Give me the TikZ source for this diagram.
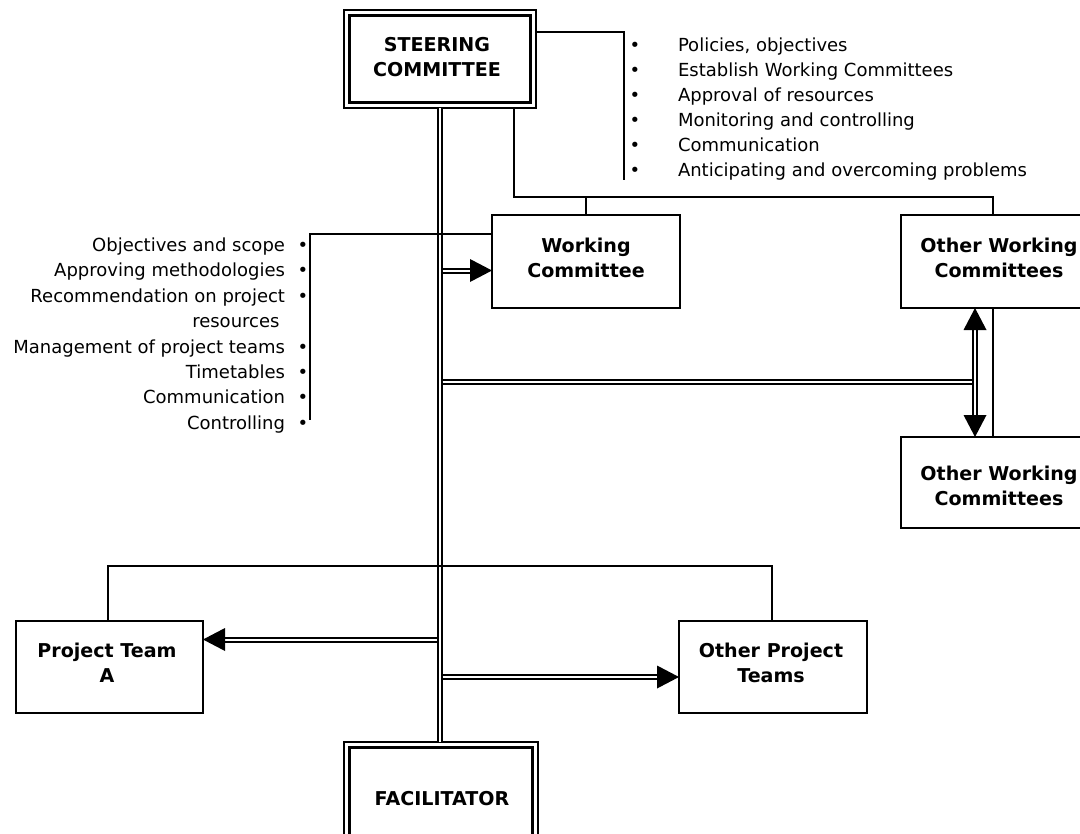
\documentclass[tikz,border=0pt]{standalone}
\usepackage{fontspec}
\setmainfont{DejaVu Sans}
\usetikzlibrary{arrows.meta,calc}
\tikzset{
  every node/.style={inner sep=0pt, outer sep=0pt},
  lbl/.style={font=\fontsize{13.5pt}{18.75pt}\selectfont, text height=9.8pt, text depth=0pt},
  boldtxt/.style={font=\fontsize{14.3pt}{18.75pt}\selectfont\bfseries, align=center},
  box/.style={draw, line width=1.35pt, fill=white},
  conn/.style={line width=1.1pt},
  dbl/.style={double, draw=black, double distance=1.5pt, line width=1.5pt},
}
\begin{document}
\begin{tikzpicture}[x=0.75pt,y=-0.75pt]
\clip (0,0) rectangle (1080,834);
\fill[white] (0,0) rectangle (1080,834);

% boxes
\node[box, line width=1.2pt, minimum width=144pt, minimum height=73.5pt] (sc) at (440,59) {};
\draw[line width=2.4pt] ($(sc.north west)+(5.5,5.5)$) rectangle ($(sc.south east)+(-5.5,-5.5)$);
\node[box, minimum width=141pt, minimum height=69.75pt] (wc) at (586,261.5) {};
\node[box, minimum width=147pt, minimum height=69.75pt] (owc1) at (999,261.5) {};
\node[box, minimum width=147pt, minimum height=68.25pt] (owc2) at (999,482.5) {};
\node[box, minimum width=140.25pt, minimum height=69pt] (pta) at (109.5,667) {};
\node[box, minimum width=141pt, minimum height=69pt] (opt) at (773,667) {};
\node[box, line width=1.2pt, minimum width=145.5pt, minimum height=87pt] (fac) at (441,800) {};
\draw[line width=2.4pt] ($(fac.north west)+(5.5,5.5)$) rectangle ($(fac.south east)+(-5.5,-5.5)$);

% box texts
\node[boldtxt] (sct) at (437,57.5) {STEERING\\COMMITTEE};
\node[boldtxt] (wct) at (586,257.5) {Working\\Committee};
\node[boldtxt] (owc1t) at (999,257.5) {Other Working\\Committees};
\node[boldtxt] (owc2t) at (999,486) {Other Working\\Committees};
\node[boldtxt] (ptat) at (107,662.5) {Project Team\\A};
\node[boldtxt] (optt) at (771,662.5) {Other Project\\Teams};
\node[boldtxt] (fact) at (442,799) {FACILITATOR};

% main double spine
\coordinate (spine) at (439.5,0);
\draw[dbl] (sc.south -| spine) -- (fac.north -| spine);

% arrow to working committee
\coordinate (rowwc) at (0,270.5);
\draw[dbl, shorten >=15pt] ($(spine |- rowwc)+(3,0)$) -- (wc.west |- rowwc);
\fill (wc.west |- rowwc) -- ++(-22,-11.5) -- ++(0,23) -- cycle;

% link to the other working committees
\coordinate (va) at (975,381.5);
\draw[dbl] ($(spine |- va)+(3,0)$) -- (va);
\draw[dbl, shorten <=15pt, shorten >=15pt] (owc1.south -| va) -- (owc2.north -| va);
\fill (owc1.south -| va) -- ++(-11.5,22) -- ++(23,0) -- cycle;
\fill (owc2.north -| va) -- ++(-11.5,-22) -- ++(23,0) -- cycle;

% arrows to project teams
\coordinate (rowa) at (0,639.5);
\draw[dbl, shorten >=15pt] ($(spine |- rowa)+(-3,0)$) -- (pta.east |- rowa);
\fill (pta.east |- rowa) -- ++(22,-11.5) -- ++(0,23) -- cycle;
\coordinate (rowo) at (0,677);
\draw[dbl, shorten >=15pt] ($(spine |- rowo)+(3,0)$) -- (opt.west |- rowo);
\fill (opt.west |- rowo) -- ++(-22,-11.5) -- ++(0,23) -- cycle;

% thin organisation lines
\coordinate (tj) at (514,197);
\coordinate (tr) at (993,197);
\draw[conn] (sc.south -| tj) -- (tj) -- (tr) -- (owc1.north -| tr);
\draw[conn] (wc.north |- tj) -- (wc.north);
\draw[conn] (owc1.south -| tr) -- (owc2.north -| tr);

\coordinate (bl) at (108,566);
\coordinate (br) at (772,566);
\draw[conn] (pta.north -| bl) -- (bl) -- (br) -- (opt.north -| br);

% bracket lines of the task lists
\coordinate (rbtop) at (624,32);
\coordinate (rbend) at (624,180);
\draw[conn] (sc.east |- rbtop) -- (rbtop) -- (rbend);
\coordinate (lbtop) at (310,234);
\coordinate (lbend) at (310,420);
\draw[conn] (wc.west |- lbtop) -- (lbtop) -- (lbend);

% steering committee tasks
\foreach \t [count=\i] in {{Policies, objectives},{Establish Working Committees},{Approval of resources},{Monitoring and controlling},{Communication},{Anticipating and overcoming problems}} {
  \node[lbl, anchor=west] (r\i) at (678,{20+25*\i}) {\t};
  \node[lbl] (rb\i) at (635,{20+25*\i}) {•};
}

% working committee tasks
\node[lbl, anchor=east] (l1) at (285,245) {Objectives and scope};
\node[lbl, anchor=east] (l2) at (285,270.4) {Approving methodologies};
\node[lbl, anchor=east] (l3) at (285,295.8) {Recommendation on project};
\node[lbl, anchor=east] (l3b) at (279.5,321.2) {resources};
\node[lbl, anchor=east] (l4) at (285,346.6) {Management of project teams};
\node[lbl, anchor=east] (l5) at (285,372) {Timetables};
\node[lbl, anchor=east] (l6) at (285,397.4) {Communication};
\node[lbl, anchor=east] (l7) at (285,422.8) {Controlling};
\foreach \n in {1,2,3,4,5,6,7} {
  \node[lbl] (lb\n) at (303,0 |- l\n) {•};
}
\end{tikzpicture}
\end{document}
